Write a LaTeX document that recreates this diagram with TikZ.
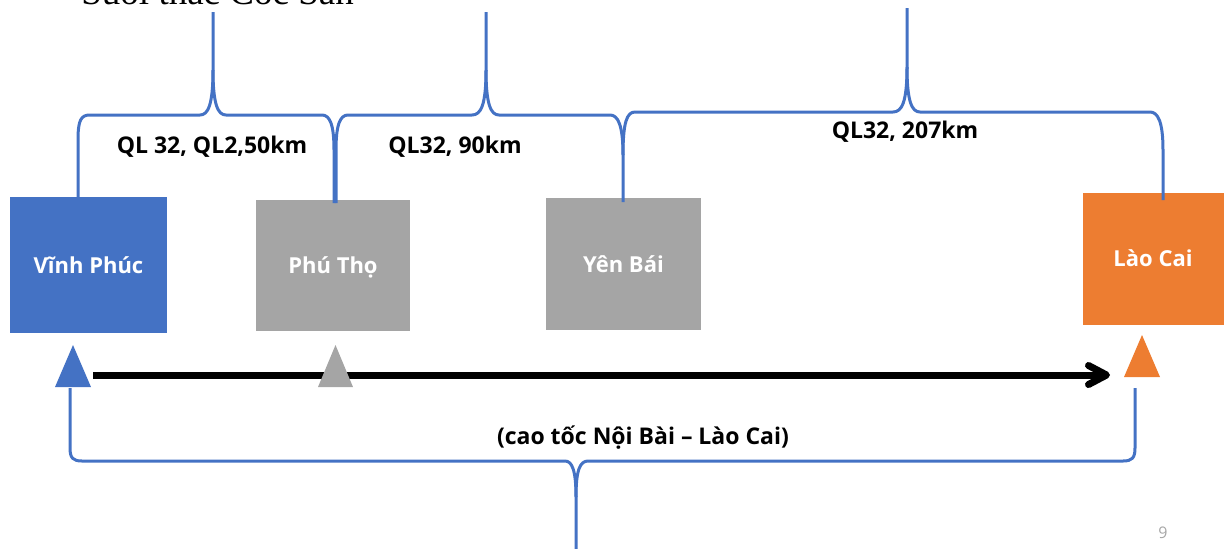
\documentclass[tikz,border=0pt]{standalone}
\usepackage{fontspec}
\setmainfont{Liberation Serif}
\newfontfamily\uifont{Open Sans}
\usetikzlibrary{arrows.meta}
\definecolor{routeblue}{HTML}{4472C4}
\definecolor{townblue}{HTML}{4472C4}
\definecolor{towngray}{HTML}{A5A5A5}
\definecolor{townorange}{HTML}{ED7D31}
\definecolor{pagegray}{HTML}{A6A6A6}
\tikzset{
  town/.style={inner sep=0pt,text=white,text height=8pt,text depth=0pt,
    font=\uifont\bfseries\fontsize{11}{13}\selectfont},
  dist/.style={inner sep=0pt,font=\uifont\bfseries\fontsize{11.5}{13}\selectfont},
  brace/.style={draw=routeblue,line width=1.5pt},
  >={Straight Barb[length=9pt,width=9.5pt,round]},
}

\begin{document}
\begin{tikzpicture}[x=0.5pt,y=-0.5pt]
  \useasboundingbox (0,0) rectangle (1227,548);
  \clip (0,0) rectangle (1227,548);

  \node[anchor=base west,inner sep=0pt,font=\fontsize{18.5}{22}\selectfont] (title) at (81,4) {Suối thác Cốc San};

  % the four towns
  \node[town,fill=townblue,minimum width=78.5pt,minimum height=68pt]   (vp) at (88.5,265)  {Vĩnh Phúc};
  \node[town,fill=towngray,minimum width=77pt,minimum height=65.5pt]   (pt) at (333,265.5) {Phú Thọ};
  \node[town,fill=towngray,minimum width=77.5pt,minimum height=66pt]   (yb) at (623.5,264) {Yên Bái};
  \node[town,fill=townorange,minimum width=70.5pt,minimum height=66pt] (lc) at (1153,258.5) {Lào Cai};

  % braces above
  \draw[brace] (78,198) -- (78,140) .. controls (78,120) and (81,115) .. (90,115) -- (200,115)
    .. controls (208,115) and (213,105) .. (213,70) -- (213,12);
  \draw[brace] (213,70) .. controls (213,105) and (218,115) .. (226,115) -- (322,115)
    .. controls (330,115) and (334,125) .. (334,150) -- (334,203);
  \draw[brace] (336,203) -- (336,150) .. controls (336,125) and (340,115) .. (348,115) -- (472,115)
    .. controls (481,115) and (486,105) .. (486,70) -- (486,12);
  \draw[brace] (486,70) .. controls (486,105) and (491,115) .. (499,115) -- (610,115)
    .. controls (618,115) and (623,125) .. (623,155) -- (623,202);
  \draw[brace] (623,155) .. controls (623,122) and (627,112) .. (635,112) -- (893,112)
    .. controls (902,112) and (907,102) .. (907,67) -- (907,8);
  \draw[brace] (907,67) .. controls (907,102) and (912,112) .. (920,112) -- (1150,112)
    .. controls (1158,112) and (1163,122) .. (1163,150) -- (1163,200);

  \node[dist] (d1) at (212,147) {QL 32, QL2,50km};
  \node[dist] (d2) at (455,147) {QL32, 90km};
  \node[dist] (d3) at (905,132) {QL32, 207km};

  % expressway
  \coordinate (start) at (93,375);
  \coordinate (stop) at (1110,375);
  \draw[->,line width=3.5pt] (start) -- (stop);
  \fill[townblue]   (55,387) -- (73,345) -- (91,387) -- cycle;
  \fill[towngray]   (318,387) -- (335.5,345) -- (353,387) -- cycle;
  \fill[townorange] (1124,377) -- (1142,335) -- (1160,377) -- cycle;

  % brace below
  \draw[brace] (70,388) -- (70,448) .. controls (70,458) and (73,461) .. (82,461) -- (565,461)
    .. controls (572,461) and (576,470) .. (576,497) -- (576,560);
  \draw[brace] (576,497) .. controls (576,470) and (580,461) .. (588,461) -- (1123,461)
    .. controls (1132,461) and (1135,458) .. (1135,448) -- (1135,388);
  \node[dist] (hw) at (643,438) {(cao tốc Nội Bài – Lào Cai)};

  \node[inner sep=0pt,text=pagegray,font=\uifont\fontsize{8}{9}\selectfont] (page) at (1163,533) {9};
\end{tikzpicture}
\end{document}
